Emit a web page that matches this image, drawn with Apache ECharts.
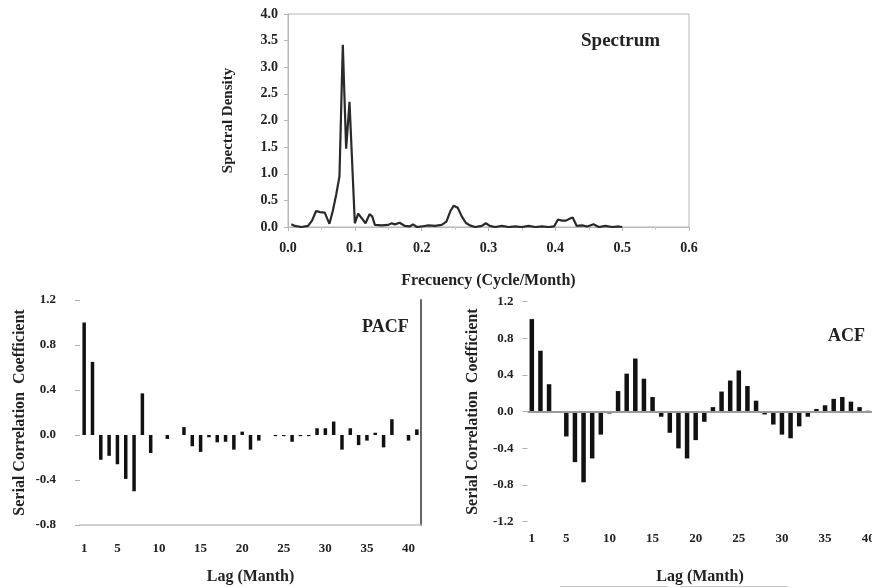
<!DOCTYPE html>
<html>
<head>
<meta charset="utf-8">
<script src="https://cdn.jsdelivr.net/npm/echarts@6/dist/echarts.min.js"></script>
<style>
  html, body { margin: 0; padding: 0; background: #fff; }
  #chart { width: 872px; height: 588px; }
</style>
</head>
<body>
<div id="chart"></div>
<script>
// spectrum (frequency in cycle/month, spectral density)
const specFreq = [0.005, 0.01, 0.02, 0.03, 0.036, 0.042, 0.048, 0.055, 0.062, 0.067, 0.072, 0.077,
  0.082, 0.087, 0.092, 0.1, 0.105, 0.11, 0.116, 0.122, 0.126, 0.13, 0.14, 0.15, 0.155, 0.16, 0.167,
  0.175, 0.182, 0.187, 0.193, 0.2, 0.21, 0.22, 0.23, 0.237, 0.243, 0.248, 0.254, 0.26, 0.266, 0.272,
  0.28, 0.29, 0.296, 0.302, 0.31, 0.32, 0.33, 0.34, 0.35, 0.36, 0.37, 0.38, 0.39, 0.398, 0.404, 0.41,
  0.416, 0.422, 0.426, 0.432, 0.44, 0.448, 0.457, 0.465, 0.475, 0.485, 0.495, 0.5];
const specDensity = [0.05, 0.02, 0.0, 0.02, 0.12, 0.30, 0.28, 0.27, 0.06, 0.3, 0.6, 0.95,
  3.42, 1.47, 2.35, 0.07, 0.25, 0.17, 0.07, 0.24, 0.2, 0.04, 0.03, 0.04, 0.07, 0.05, 0.08,
  0.02, 0.01, 0.05, 0.0, 0.01, 0.03, 0.02, 0.04, 0.1, 0.3, 0.4, 0.36, 0.2, 0.08, 0.03,
  0.0, 0.02, 0.07, 0.02, 0.0, 0.02, 0.0, 0.01, 0.0, 0.02, 0.0, 0.01, 0.0, 0.01, 0.14, 0.12,
  0.12, 0.16, 0.18, 0.02, 0.03, 0.01, 0.05, 0.0, 0.02, 0.0, 0.01, 0.0];

// lags
const pacfLags = [];
for (let i = 1; i <= 41; i++) pacfLags.push(String(i));
const acfLags = [];
for (let i = 1; i <= 40; i++) acfLags.push(String(i));

const pacfValues = [1.0, 0.65, -0.22, -0.185, -0.26, -0.39, -0.5, 0.37, -0.16, 0,
  -0.035, 0, 0.07, -0.1, -0.15, -0.02, -0.065, -0.06, -0.13, 0.03,
  -0.13, -0.05, 0, -0.01, -0.01, -0.06, -0.01, -0.01, 0.06, 0.06,
  0.12, -0.13, 0.06, -0.09, -0.05, 0.02, -0.11, 0.14, 0, -0.05, 0.05];

const acfValues = [1.01, 0.665, 0.3, 0, -0.27, -0.55, -0.77, -0.51, -0.25, -0.02,
  0.225, 0.415, 0.58, 0.36, 0.16, -0.055, -0.23, -0.4, -0.51, -0.31,
  -0.11, 0.05, 0.22, 0.34, 0.45, 0.28, 0.12, -0.03, -0.14, -0.25,
  -0.29, -0.16, -0.055, 0.03, 0.07, 0.14, 0.16, 0.11, 0.05, 0.01];

const font = 'Liberation Serif';
const ink = '#222';
const labelStyle = { fontFamily: font, fontWeight: 'bold', fontSize: 13, color: ink };
const nameStyle = { fontFamily: font, fontWeight: 'bold', fontSize: 16, color: ink };

const lagLabel = (idx, val) => val === '1' || Number(val) % 5 === 0;

const chart = echarts.init(document.getElementById('chart'), null, { renderer: 'canvas' });

chart.setOption({
  animation: false,
  backgroundColor: '#fff',
  grid: [
    { left: 288, top: 14, width: 401, height: 213, show: true, borderColor: '#b8b8b8', borderWidth: 1, outerBoundsMode: 'none' },
    { left: 80, top: 300, width: 341, height: 225, outerBoundsMode: 'none' },
    { left: 527.5, top: 301.7, width: 345, height: 220, outerBoundsMode: 'none' }
  ],
  xAxis: [
    {
      gridIndex: 0, type: 'value', min: 0, max: 0.6, interval: 0.1,
      axisLine: { lineStyle: { color: '#b8b8b8' } },
      axisTick: { show: true, length: 4, lineStyle: { color: '#b8b8b8' } },
      minorTick: { show: true, splitNumber: 2, length: 3, lineStyle: { color: '#c8c8c8' } },
      splitLine: { show: false },
      axisLabel: { ...labelStyle, fontSize: 14, margin: 14, formatter: v => v.toFixed(1) },
      name: 'Frecuency (Cycle/Month)', nameLocation: 'middle', nameGap: 46,
      nameTextStyle: nameStyle
    },
    {
      gridIndex: 1, type: 'category', data: pacfLags, boundaryGap: true,
      axisLine: { onZero: false, lineStyle: { color: '#c0c0c0', width: 1.5 } },
      axisTick: { show: false },
      axisLabel: { ...labelStyle, margin: 17, interval: lagLabel },
      name: 'Lag (Manth)', nameLocation: 'middle', nameGap: 44,
      nameTextStyle: nameStyle
    },
    {
      gridIndex: 2, type: 'category', data: acfLags, boundaryGap: true,
      axisLine: { show: false, onZero: false },
      axisTick: { show: false },
      axisLabel: { ...labelStyle, margin: 10, interval: lagLabel },
      name: 'Lag (Manth)', nameLocation: 'middle', nameGap: 47,
      nameTextStyle: nameStyle
    }
  ],
  yAxis: [
    {
      gridIndex: 0, type: 'value', min: 0, max: 4, interval: 0.5,
      axisLine: { show: true, lineStyle: { color: '#b8b8b8' } },
      axisTick: { show: true, length: 4, lineStyle: { color: '#b8b8b8' } },
      splitLine: { show: false },
      axisLabel: { ...labelStyle, fontSize: 14, margin: 10, formatter: v => v.toFixed(1) },
      name: 'Spectral Density', nameLocation: 'middle', nameGap: 52, nameRotate: 90,
      nameTextStyle: { ...nameStyle, fontSize: 15 }
    },
    {
      gridIndex: 1, type: 'value', min: -0.8, max: 1.2, interval: 0.4,
      axisLine: { show: false },
      axisTick: { show: true, length: 5, lineStyle: { color: '#b0b0b0' } },
      splitLine: { show: false },
      axisLabel: { ...labelStyle, margin: 24, formatter: v => v.toFixed(1) },
      name: 'Serial Correlation  Coefficient', nameLocation: 'middle', nameGap: 52, nameRotate: 90,
      nameTextStyle: nameStyle
    },
    {
      gridIndex: 2, type: 'value', min: -1.2, max: 1.2, interval: 0.4,
      axisLine: { show: false },
      axisTick: { show: true, length: 5, lineStyle: { color: '#b0b0b0' } },
      splitLine: { show: false },
      axisLabel: { ...labelStyle, margin: 14, formatter: v => v.toFixed(1) },
      name: 'Serial Correlation  Coefficient', nameLocation: 'middle', nameGap: 47, nameRotate: 90,
      nameTextStyle: nameStyle
    },
    {
      // right frame line of the PACF panel
      gridIndex: 1, type: 'value', min: -0.8, max: 1.2, position: 'right',
      axisLine: { show: true, lineStyle: { color: '#666', width: 2 } },
      axisTick: { show: false }, axisLabel: { show: false }, splitLine: { show: false }
    }
  ],
  series: [
    {
      type: 'line', xAxisIndex: 0, yAxisIndex: 0, symbol: 'none',
      lineStyle: { color: '#2a2a2a', width: 2.2 },
      data: specFreq.map((f, i) => [f, specDensity[i]])
    },
    {
      type: 'bar', xAxisIndex: 1, yAxisIndex: 1, barWidth: 3.5,
      itemStyle: { color: '#111' },
      data: pacfValues
    },
    {
      type: 'bar', xAxisIndex: 2, yAxisIndex: 2, barWidth: 4.5,
      itemStyle: { color: '#111' },
      data: acfValues,
      markLine: {
        silent: true, symbol: 'none', label: { show: false },
        lineStyle: { color: '#9a9a9a', width: 2, type: 'solid' },
        data: [{ yAxis: 0 }]
      }
    }
  ],
  graphic: [
    { type: 'text', left: 581, top: 32, style: { text: 'Spectrum', font: 'bold 19px "Liberation Serif"', fill: ink } },
    { type: 'text', left: 362, top: 318, style: { text: 'PACF', font: 'bold 18px "Liberation Serif"', fill: ink } },
    { type: 'text', left: 828, top: 327, style: { text: 'ACF', font: 'bold 18px "Liberation Serif"', fill: ink } },
    { type: 'line', shape: { x1: 560, y1: 586.5, x2: 668, y2: 586.5 }, style: { stroke: '#c8c8c8', lineWidth: 1 } },
    { type: 'line', shape: { x1: 680, y1: 586.5, x2: 788, y2: 586.5 }, style: { stroke: '#c8c8c8', lineWidth: 1 } }
  ]
});
</script>
</body>
</html>
